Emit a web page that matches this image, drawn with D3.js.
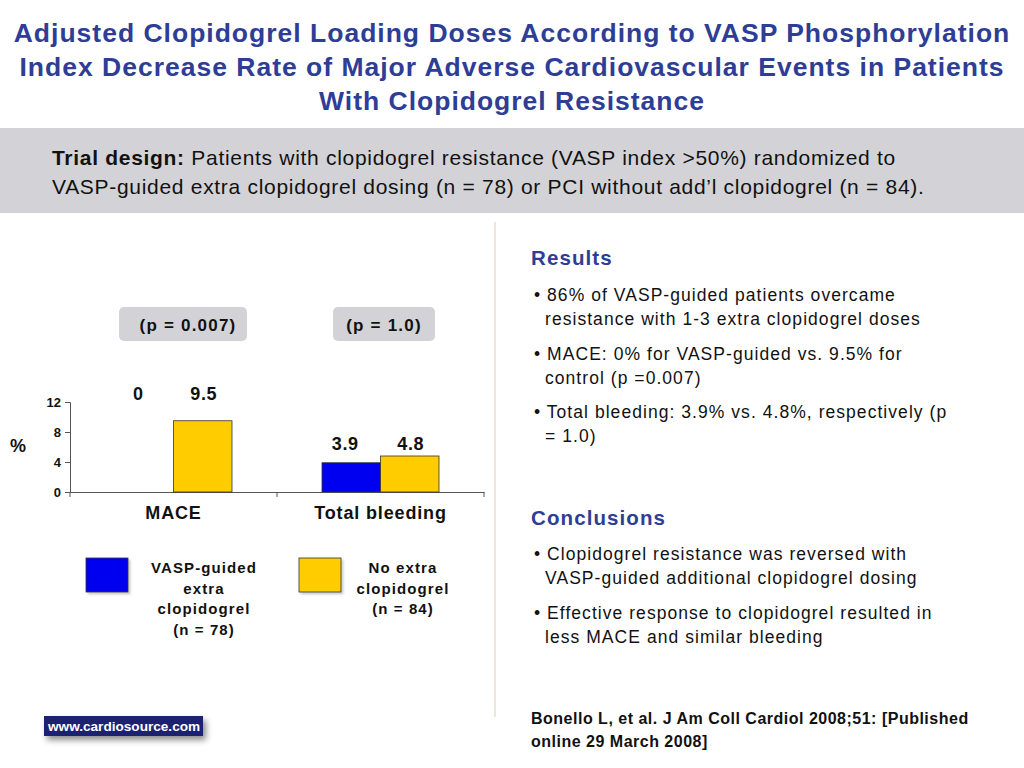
<!DOCTYPE html>
<html><head><meta charset="utf-8">
<script src="https://cdn.jsdelivr.net/npm/d3@7"></script>
<style>body{margin:0;background:#fff}svg{display:block;font-family:"Liberation Sans",Arial,sans-serif}</style>
</head><body>
<svg id="c" width="1024" height="768"></svg>
<script>
const categories = ["MACE", "Total bleeding"];
const seriesNames = ["VASP-guided extra clopidogrel (n = 78)", "No extra clopidogrel (n = 84)"];
const vaspValues = [0, 3.9];
const controlValues = [9.5, 4.8];
const valueLabels = [["0", "9.5"], ["3.9", "4.8"]];
const pValues = ["(p = 0.007)", "(p = 1.0)"];
const yTicks = [0, 4, 8, 12];
const titleLines = ["Adjusted Clopidogrel Loading Doses According to VASP Phosphorylation",
  "Index Decrease Rate of Major Adverse Cardiovascular Events in Patients",
  "With Clopidogrel Resistance"];
const legendLines = [["VASP-guided", "extra", "clopidogrel", "(n = 78)"], ["No extra", "clopidogrel", "(n = 84)"]];
const resultsBullets = [["86% of VASP-guided patients overcame", "resistance with 1-3 extra clopidogrel doses"],
  ["MACE: 0% for VASP-guided vs. 9.5% for", "control (p  =0.007)"],
  ["Total bleeding: 3.9% vs. 4.8%, respectively (p", "= 1.0)"]];
const conclusionBullets = [["Clopidogrel resistance was reversed with", "VASP-guided additional clopidogrel dosing"],
  ["Effective response to clopidogrel resulted in", "less MACE and similar bleeding"]];

const colors = ["#0000F0", "#FFCC00"];
const blueTitle = "#2E3D95";
const svg = d3.select("#c");

const defs = svg.append("defs");
const f = defs.append("filter").attr("id","sh").attr("x","-20%").attr("y","-20%").attr("width","150%").attr("height","180%");
f.append("feDropShadow").attr("dx",3).attr("dy",4).attr("stdDeviation",3).attr("flood-color","#000").attr("flood-opacity",0.45);
const f2 = defs.append("filter").attr("id","sh2").attr("x","-20%").attr("y","-20%").attr("width","150%").attr("height","150%");
f2.append("feDropShadow").attr("dx",2).attr("dy",2).attr("stdDeviation",1).attr("flood-color","#000").attr("flood-opacity",0.2);

// Title
svg.selectAll("text.title").data(titleLines).join("text")
  .attr("x", 512).attr("y", (d,i)=>42 + i*34).attr("text-anchor","middle")
  .attr("font-size", 26.5).attr("letter-spacing", 1.0).attr("font-weight","bold").attr("fill", blueTitle).text(d=>d);

// Gray band
svg.append("rect").attr("x",0).attr("y",128).attr("width",1024).attr("height",85).attr("fill","#D3D3D7");
const t1 = svg.append("text").attr("x",52).attr("y",165).attr("font-size",21).attr("letter-spacing",0.7).attr("fill","#111");
t1.append("tspan").attr("font-weight","bold").text("Trial design:");
t1.append("tspan").text(" Patients with clopidogrel resistance (VASP index >50%) randomized to");
svg.append("text").attr("x",52).attr("y",194).attr("font-size",21).attr("letter-spacing",0.7).attr("fill","#111")
  .text("VASP-guided extra clopidogrel dosing (n = 78) or PCI without add\u2019l clopidogrel (n = 84).");

// Divider
svg.append("line").attr("x1",495).attr("x2",495).attr("y1",222).attr("y2",717).attr("stroke","#EDE6DA").attr("stroke-width",2);

// Chart
const x0 = d3.scaleBand().domain(categories).range([70, 484]);
const x1 = d3.scaleBand().domain([0,1]).range([0, 117]);
const y = d3.scaleLinear().domain([0, 12]).range([492, 402]);
const g = svg.append("g");
const yAxis = d3.axisLeft(y).tickValues(yTicks).tickSize(5).tickPadding(4);
const ya = g.append("g").attr("transform","translate(70,0)").call(yAxis);
ya.select(".domain").attr("stroke","#555");
ya.selectAll(".tick line").attr("stroke","#555");
ya.selectAll(".tick text").attr("font-size",13).attr("font-weight","bold").attr("fill","#111").attr("font-family","Liberation Sans, Arial, sans-serif");
const xAxis = d3.axisBottom(x0).tickSize(0).tickPadding(14);
const xa = g.append("g").attr("transform","translate(0,492)").call(xAxis);
xa.select(".domain").attr("stroke","#555");
xa.selectAll(".tick text").attr("font-size",18).attr("letter-spacing",0.85).attr("font-weight","bold").attr("fill","#111").attr("font-family","Liberation Sans, Arial, sans-serif");
g.selectAll("line.bt").data([70, x0("Total bleeding"), 484]).join("line")
  .attr("x1",d=>d).attr("x2",d=>d).attr("y1",492).attr("y2",497).attr("stroke","#555");

const groups = categories.map((c,i)=>({c, vals:[vaspValues[i], controlValues[i]], labels:valueLabels[i], i}));
const gg = g.selectAll("g.grp").data(groups).join("g")
  .attr("transform", d=>`translate(${x0(d.c) + (x0.bandwidth()-117)/2},0)`);
gg.selectAll("rect").data(d=>d.vals.map((v,k)=>({v,k})).filter(e=>e.v>0)).join("rect")
  .attr("x", d=>x1(d.k)).attr("width", x1.bandwidth()).attr("y", d=>y(d.v)).attr("height", d=>y(0)-y(d.v))
  .attr("fill", d=>colors[d.k]).attr("stroke","#333").attr("stroke-width",0.8);
const labelLift = [21, 6];
gg.selectAll("text").data(d=>d.labels.map((l,k)=>({l,k,top:y(Math.max(...d.vals)) - labelLift[d.i]}))).join("text")
  .attr("x", d=>x1(d.k)+x1.bandwidth()/2 - (d.k===0?6:-1)).attr("y", d=>d.top).attr("text-anchor","middle")
  .attr("font-size",18).attr("letter-spacing",0.6).attr("font-weight","bold").attr("fill","#111").text(d=>d.l);

svg.append("text").attr("x",18).attr("y",452).attr("text-anchor","middle").attr("font-size",18).attr("font-weight","bold").attr("fill","#111").text("%");

// p-value pills
const pillW = [128, 102];
const pillCx = [183, 384];
const pillTx = [188, 384];
pValues.forEach((p,i)=>{
  svg.append("rect").attr("x", pillCx[i]-pillW[i]/2).attr("y",307).attr("width",pillW[i]).attr("height",34).attr("rx",5).attr("fill","#D3D3D7");
  svg.append("text").attr("x", pillTx[i]).attr("y",331).attr("text-anchor","middle").attr("font-size",17).attr("letter-spacing",1.2).attr("font-weight","bold").attr("fill","#111").text(p);
});

// Legend
const legX = [86, 299], legTx = [204, 403];
legendLines.forEach((lines,i)=>{
  svg.append("rect").attr("x",legX[i]).attr("y",558).attr("width",42).attr("height",34).attr("fill",colors[i]).attr("stroke","#333").attr("stroke-width",0.8).attr("filter","url(#sh2)");
  svg.selectAll(null).data(lines).join("text").attr("x",legTx[i]).attr("y",(d,k)=>573+k*20.5).attr("text-anchor","middle")
    .attr("font-size",15).attr("letter-spacing",1.1).attr("font-weight","bold").attr("fill","#111").text(d=>d);
});

// Right column
function section(title, ty, bullets, by) {
  svg.append("text").attr("x",531).attr("y",ty).attr("font-size",20.5).attr("letter-spacing",1.1).attr("font-weight","bold").attr("fill",blueTitle).text(title);
  let yy = by;
  bullets.forEach(b=>{
    b.forEach((line,k)=>{
      svg.append("text").attr("x", k===0?534:545).attr("y",yy).attr("font-size",17.5).attr("letter-spacing",1.05).attr("fill","#111")
        .text(k===0 ? "\u2022 " + line : line);
      yy += 24;
    });
    yy += 10.5;
  });
}
section("Results", 265, resultsBullets, 301);
section("Conclusions", 525, conclusionBullets, 560);

svg.append("text").attr("x",531).attr("y",724).attr("font-size",16).attr("letter-spacing",0.5).attr("font-weight","bold").attr("fill","#111").text("Bonello L, et al. J Am Coll Cardiol 2008;51: [Published");
svg.append("text").attr("x",531).attr("y",747).attr("font-size",16).attr("letter-spacing",0.5).attr("font-weight","bold").attr("fill","#111").text("online 29 March 2008]");

// logo
svg.append("rect").attr("x",44).attr("y",716).attr("width",159).attr("height",20).attr("fill","#1A2370").attr("filter","url(#sh)");
svg.append("text").attr("x",48).attr("y",731).attr("font-size",13.6).attr("font-weight","bold").attr("fill","#fff").text("www.cardiosource.com");
</script>
</body></html>
